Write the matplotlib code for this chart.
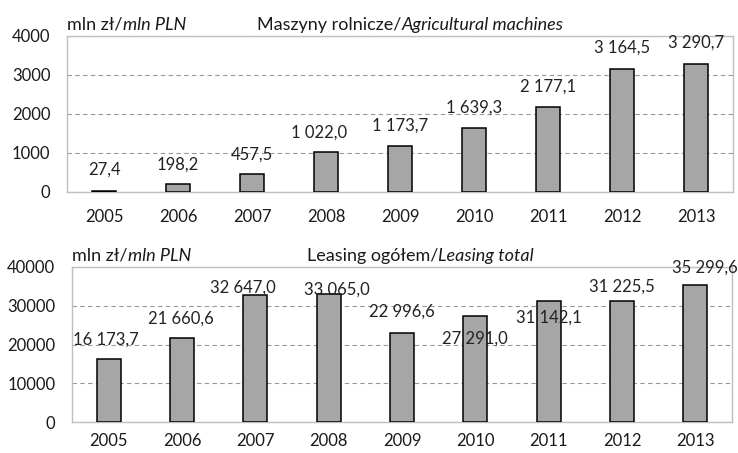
import matplotlib.pyplot as plt

plt.rcParams['font.family'] = ['Lato', 'DejaVu Sans']

years = ["2005", "2006", "2007", "2008", "2009", "2010", "2011", "2012", "2013"]
agri = [27.4, 198.2, 457.5, 1022.0, 1173.7, 1639.3, 2177.1, 3164.5, 3290.7]
total = [16173.7, 21660.6, 32647.0, 33065.0, 22996.6, 27291.0, 31142.1, 31225.5, 35299.6]

# label offsets from bar top (points, x / y) - copied from how the source placed them
agri_off = [(0, 15), (0, 14), (0, 14), (-5, 14), (0, 15), (0, 15), (0, 15), (0, 15), (0, 15)]
total_off = [(-2, 14), (-1, 14), (-9, 6), (6, 3), (0, 15), (0, -16), (0, -12), (0, 10), (7, 13)]


def fmt(v):
    s = "{:,.1f}".format(v)
    return s.replace(",", " ").replace(".", ",")


def mixed_title(fig, ax, x, normal, italic, size=13):
    # normal text followed by italic text on one line, above the axes
    r = fig.canvas.get_renderer()
    t = ax.text(x, 1.02, normal, transform=ax.transAxes, fontsize=size, va="bottom",
                color="#1a1a1a")
    bb = t.get_window_extent(renderer=r)
    x2 = ax.transAxes.inverted().transform((bb.x1, bb.y0))[0]
    ax.text(x2, 1.02, italic, transform=ax.transAxes, fontsize=size, va="bottom",
            style="italic", color="#1a1a1a")


def draw(ax, vals, offs, ymax, step, xpad):
    xs = range(len(years))
    ax.bar(xs, vals, width=0.33, color="#a6a6a6", edgecolor="black", linewidth=1.1, zorder=3)
    for i, v in enumerate(vals):
        ax.annotate(fmt(v), (i, v), xytext=offs[i], textcoords="offset points",
                    ha="center", va="center", fontsize=12, color="#222222", zorder=4)
    ax.set_xlim(-0.5, len(years) - 0.5)
    ax.set_ylim(0, ymax)
    ax.set_xticks(list(xs))
    ax.set_xticklabels(years)
    ax.set_yticks(range(0, ymax + 1, step))
    ax.tick_params(length=0, labelsize=12, labelcolor="#1a1a1a")
    ax.tick_params(axis="x", pad=xpad)
    ax.tick_params(axis="y", pad=12)
    ax.grid(axis="y", color="#999999", linestyle=(0, (4, 3)), linewidth=0.8, zorder=0)
    for s in ax.spines.values():
        s.set_color("#bfbfbf")
        s.set_linewidth(1.0)


fig = plt.figure(figsize=(7.38, 4.53), dpi=100)
ax1 = fig.add_axes([0.0908, 0.5762, 0.9024, 0.3444])
ax2 = fig.add_axes([0.0976, 0.0684, 0.8943, 0.3422])

draw(ax1, agri, agri_off, 4000, 1000, 12)
draw(ax2, total, total_off, 40000, 10000, 8)

mixed_title(fig, ax1, 0.0, "mln zł/", "mln PLN")
mixed_title(fig, ax1, 0.286, "Maszyny rolnicze/", "Agricultural machines")
mixed_title(fig, ax2, 0.0, "mln zł/", "mln PLN")
mixed_title(fig, ax2, 0.356, "Leasing ogółem/", "Leasing total")

fig.savefig("out.png", dpi=100)
